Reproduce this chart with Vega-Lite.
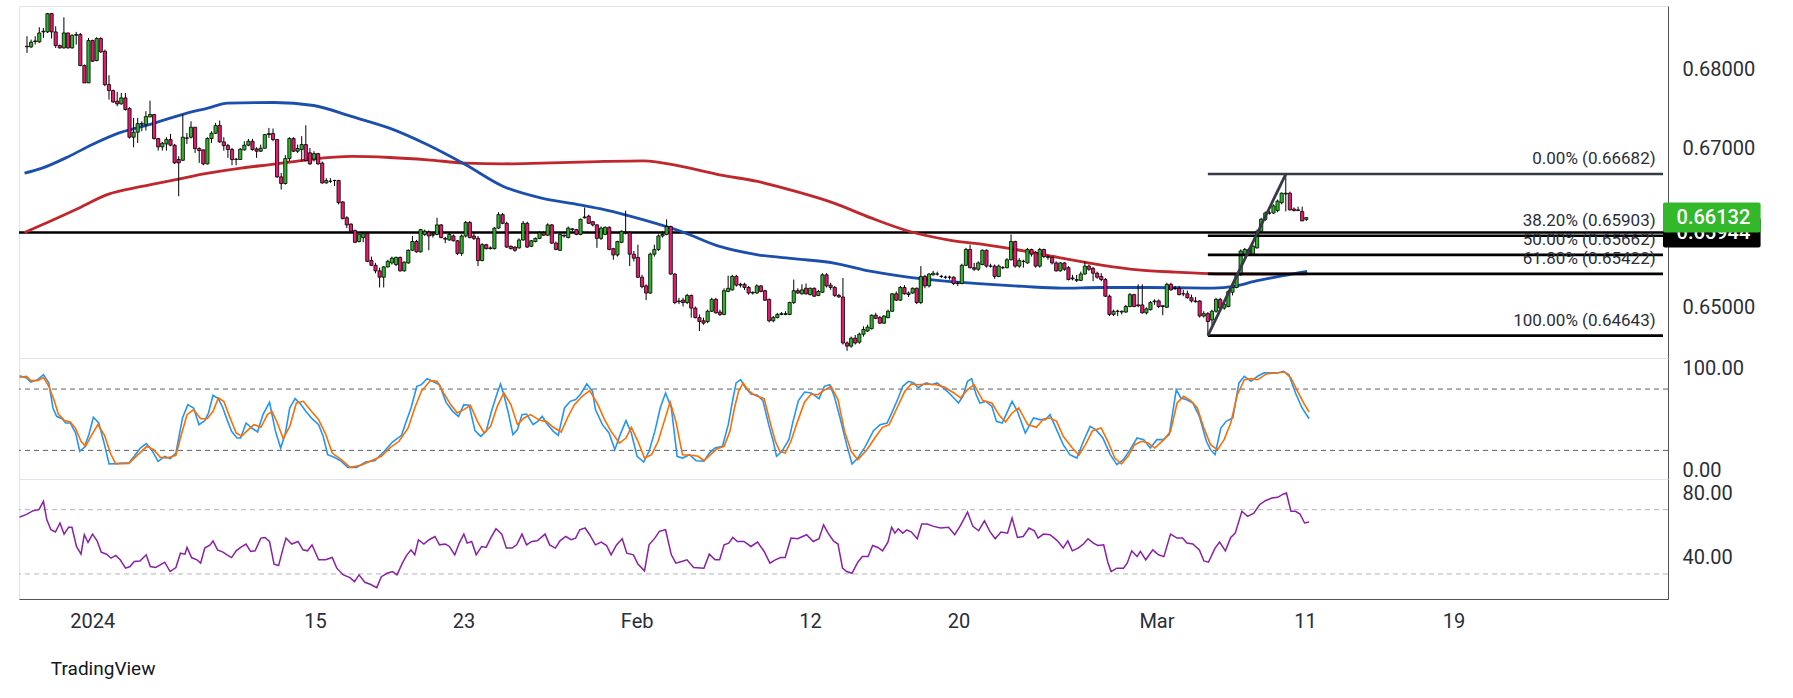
{
  "$schema": "https://vega.github.io/schema/vega-lite/v6.json",
  "background": "#ffffff",
  "padding": {"left": 15, "top": 5, "right": 0, "bottom": 0},
  "autosize": {"type": "pad"},
  "spacing": 0,
  "bounds": "flush",
  "title": {"text": "TradingView", "orient": "bottom", "anchor": "start", "dx": 35, "offset": 28, "font": "Roboto", "fontSize": 19, "fontWeight": "normal", "color": "#131722"},
  "config": {
    "view": {"stroke": "#e0e3eb", "strokeWidth": 1},
    "axis": {"labelFont": "Roboto", "labelFontSize": 20, "labelColor": "#2a2e39", "ticks": false, "grid": false, "domainColor": "#50535e", "domainWidth": 1, "labelFlush": false}
  },
  "datasets": {
    "candles": [
      {"k":0,"o":0.68295,"h":0.68421,"l":0.68211,"c":0.68287},
      {"k":1,"o":0.68287,"h":0.68379,"l":0.68274,"c":0.68346},
      {"k":2,"o":0.68354,"h":0.68421,"l":0.68316,"c":0.68362},
      {"k":3,"o":0.6835,"h":0.68535,"l":0.68337,"c":0.68463},
      {"k":4,"o":0.68476,"h":0.68526,"l":0.684,"c":0.68484},
      {"k":5,"o":0.68476,"h":0.68716,"l":0.68463,"c":0.68707},
      {"k":6,"o":0.68707,"h":0.68716,"l":0.68392,"c":0.68476},
      {"k":7,"o":0.68476,"h":0.68547,"l":0.68274,"c":0.68303},
      {"k":8,"o":0.68303,"h":0.68316,"l":0.68266,"c":0.68274},
      {"k":9,"o":0.68274,"h":0.68661,"l":0.68266,"c":0.68463},
      {"k":10,"o":0.68463,"h":0.68463,"l":0.68266,"c":0.68274},
      {"k":11,"o":0.68274,"h":0.68442,"l":0.68266,"c":0.68434},
      {"k":12,"o":0.68434,"h":0.68476,"l":0.68316,"c":0.68442},
      {"k":13,"o":0.68442,"h":0.68463,"l":0.68043,"c":0.68051},
      {"k":14,"o":0.68051,"h":0.68064,"l":0.67832,"c":0.67832},
      {"k":15,"o":0.67832,"h":0.684,"l":0.67832,"c":0.68367},
      {"k":16,"o":0.68367,"h":0.68379,"l":0.68097,"c":0.68106},
      {"k":17,"o":0.68114,"h":0.68409,"l":0.68106,"c":0.68392},
      {"k":18,"o":0.68392,"h":0.68409,"l":0.68211,"c":0.68224},
      {"k":19,"o":0.68232,"h":0.68253,"l":0.6779,"c":0.67811},
      {"k":20,"o":0.67811,"h":0.67929,"l":0.67622,"c":0.67736},
      {"k":21,"o":0.67736,"h":0.67748,"l":0.6758,"c":0.67592},
      {"k":22,"o":0.67601,"h":0.67719,"l":0.67538,"c":0.67567},
      {"k":23,"o":0.67567,"h":0.67706,"l":0.67559,"c":0.67643},
      {"k":24,"o":0.67643,"h":0.67706,"l":0.67483,"c":0.67496},
      {"k":25,"o":0.67508,"h":0.67525,"l":0.6713,"c":0.67147},
      {"k":26,"o":0.67147,"h":0.67391,"l":0.6702,"c":0.6721},
      {"k":27,"o":0.6721,"h":0.67391,"l":0.67075,"c":0.67319},
      {"k":28,"o":0.67319,"h":0.67348,"l":0.67222,"c":0.67311},
      {"k":29,"o":0.67306,"h":0.67475,"l":0.67231,"c":0.67407},
      {"k":30,"o":0.67403,"h":0.67609,"l":0.67399,"c":0.67433},
      {"k":31,"o":0.67433,"h":0.67441,"l":0.67117,"c":0.6713},
      {"k":32,"o":0.6713,"h":0.67138,"l":0.66978,"c":0.67025},
      {"k":33,"o":0.67025,"h":0.67088,"l":0.66978,"c":0.67071},
      {"k":34,"o":0.67062,"h":0.67147,"l":0.66978,"c":0.67117},
      {"k":35,"o":0.67117,"h":0.67189,"l":0.67033,"c":0.67046},
      {"k":36,"o":0.67046,"h":0.67062,"l":0.6681,"c":0.66823},
      {"k":37,"o":0.66865,"h":0.66907,"l":0.66402,"c":0.66823},
      {"k":38,"o":0.66856,"h":0.67433,"l":0.66844,"c":0.67147},
      {"k":39,"o":0.67138,"h":0.67201,"l":0.67062,"c":0.67134},
      {"k":40,"o":0.67147,"h":0.67348,"l":0.6713,"c":0.67273},
      {"k":41,"o":0.67273,"h":0.67273,"l":0.66949,"c":0.67004},
      {"k":42,"o":0.67004,"h":0.6702,"l":0.66823,"c":0.66978},
      {"k":43,"o":0.66987,"h":0.66991,"l":0.66793,"c":0.6681},
      {"k":44,"o":0.6681,"h":0.67147,"l":0.66802,"c":0.6713},
      {"k":45,"o":0.6713,"h":0.67222,"l":0.67075,"c":0.67197},
      {"k":46,"o":0.67197,"h":0.67327,"l":0.67189,"c":0.67294},
      {"k":47,"o":0.67294,"h":0.67357,"l":0.67075,"c":0.67088},
      {"k":48,"o":0.67088,"h":0.67147,"l":0.66978,"c":0.67041},
      {"k":49,"o":0.67041,"h":0.67062,"l":0.66886,"c":0.66991},
      {"k":50,"o":0.66991,"h":0.67012,"l":0.66793,"c":0.66865},
      {"k":51,"o":0.66865,"h":0.66886,"l":0.66793,"c":0.66869},
      {"k":52,"o":0.66865,"h":0.67012,"l":0.66861,"c":0.66995},
      {"k":53,"o":0.66987,"h":0.67096,"l":0.66978,"c":0.67046},
      {"k":54,"o":0.67046,"h":0.67126,"l":0.67033,"c":0.67096},
      {"k":55,"o":0.67096,"h":0.67126,"l":0.66978,"c":0.66991},
      {"k":56,"o":0.66999,"h":0.6702,"l":0.66886,"c":0.6697},
      {"k":57,"o":0.6697,"h":0.67054,"l":0.66961,"c":0.67008},
      {"k":58,"o":0.67008,"h":0.67189,"l":0.67004,"c":0.6718},
      {"k":59,"o":0.6718,"h":0.67264,"l":0.67138,"c":0.67193},
      {"k":60,"o":0.67193,"h":0.67256,"l":0.67096,"c":0.67117},
      {"k":61,"o":0.67117,"h":0.67126,"l":0.66633,"c":0.66646},
      {"k":62,"o":0.66646,"h":0.66696,"l":0.66486,"c":0.66562},
      {"k":63,"o":0.66562,"h":0.66919,"l":0.66549,"c":0.66877},
      {"k":64,"o":0.66877,"h":0.67147,"l":0.66844,"c":0.6713},
      {"k":65,"o":0.6713,"h":0.67147,"l":0.66961,"c":0.6697},
      {"k":66,"o":0.6697,"h":0.67054,"l":0.66949,"c":0.67004},
      {"k":67,"o":0.66991,"h":0.67159,"l":0.66844,"c":0.67054},
      {"k":68,"o":0.67054,"h":0.67298,"l":0.66844,"c":0.66852},
      {"k":69,"o":0.6695,"h":0.6701,"l":0.668,"c":0.6681},
      {"k":70,"o":0.6687,"h":0.6697,"l":0.6684,"c":0.6694},
      {"k":71,"o":0.6694,"h":0.6695,"l":0.668,"c":0.6681},
      {"k":72,"o":0.6682,"h":0.6684,"l":0.6656,"c":0.6657},
      {"k":73,"o":0.6657,"h":0.6663,"l":0.6656,"c":0.666},
      {"k":74,"o":0.6659,"h":0.6663,"l":0.6657,"c":0.6659},
      {"k":75,"o":0.666,"h":0.6661,"l":0.6653,"c":0.666},
      {"k":76,"o":0.666,"h":0.6661,"l":0.663,"c":0.6632},
      {"k":77,"o":0.6633,"h":0.6634,"l":0.6611,"c":0.6612},
      {"k":78,"o":0.6613,"h":0.6615,"l":0.66,"c":0.6604},
      {"k":79,"o":0.6605,"h":0.6606,"l":0.6595,"c":0.6596},
      {"k":80,"o":0.6597,"h":0.6598,"l":0.6581,"c":0.6582},
      {"k":81,"o":0.6583,"h":0.6592,"l":0.6582,"c":0.6592},
      {"k":82,"o":0.6588,"h":0.6594,"l":0.6582,"c":0.6593},
      {"k":83,"o":0.6593,"h":0.6594,"l":0.6557,"c":0.6558},
      {"k":84,"o":0.6559,"h":0.6564,"l":0.6552,"c":0.6553},
      {"k":85,"o":0.6553,"h":0.6556,"l":0.6543,"c":0.6546},
      {"k":86,"o":0.6546,"h":0.655,"l":0.6525,"c":0.6538},
      {"k":87,"o":0.6538,"h":0.6552,"l":0.6525,"c":0.6551},
      {"k":88,"o":0.6551,"h":0.656,"l":0.655,"c":0.6558},
      {"k":89,"o":0.6556,"h":0.6564,"l":0.6554,"c":0.6562},
      {"k":90,"o":0.6554,"h":0.6564,"l":0.6552,"c":0.6563},
      {"k":91,"o":0.6563,"h":0.6564,"l":0.6545,"c":0.6546},
      {"k":92,"o":0.6546,"h":0.6558,"l":0.6545,"c":0.6557},
      {"k":93,"o":0.6556,"h":0.6573,"l":0.6555,"c":0.6572},
      {"k":94,"o":0.6572,"h":0.659,"l":0.6571,"c":0.6583},
      {"k":95,"o":0.6583,"h":0.6585,"l":0.6569,"c":0.657},
      {"k":96,"o":0.657,"h":0.6599,"l":0.6569,"c":0.6598},
      {"k":97,"o":0.6592,"h":0.6598,"l":0.659,"c":0.6596},
      {"k":98,"o":0.6595,"h":0.6597,"l":0.6572,"c":0.659},
      {"k":99,"o":0.6591,"h":0.6594,"l":0.6588,"c":0.6592},
      {"k":100,"o":0.6592,"h":0.6613,"l":0.6591,"c":0.6604},
      {"k":101,"o":0.6604,"h":0.6605,"l":0.6587,"c":0.6588},
      {"k":102,"o":0.6587,"h":0.6589,"l":0.6581,"c":0.6586},
      {"k":103,"o":0.6585,"h":0.6594,"l":0.6584,"c":0.6592},
      {"k":104,"o":0.659,"h":0.6592,"l":0.6583,"c":0.6584},
      {"k":105,"o":0.6584,"h":0.6585,"l":0.6566,"c":0.6568},
      {"k":106,"o":0.6568,"h":0.6592,"l":0.6565,"c":0.659},
      {"k":107,"o":0.659,"h":0.6609,"l":0.6588,"c":0.6607},
      {"k":108,"o":0.6607,"h":0.6609,"l":0.6587,"c":0.6588},
      {"k":109,"o":0.659,"h":0.6594,"l":0.6585,"c":0.6587},
      {"k":110,"o":0.6587,"h":0.659,"l":0.6552,"c":0.6559},
      {"k":111,"o":0.6559,"h":0.6581,"l":0.6558,"c":0.6579},
      {"k":112,"o":0.6579,"h":0.658,"l":0.6573,"c":0.6574},
      {"k":113,"o":0.6575,"h":0.6577,"l":0.6573,"c":0.6574},
      {"k":114,"o":0.6574,"h":0.6601,"l":0.6573,"c":0.66},
      {"k":115,"o":0.66,"h":0.662,"l":0.6599,"c":0.6617},
      {"k":116,"o":0.6617,"h":0.6619,"l":0.6605,"c":0.6606},
      {"k":117,"o":0.6606,"h":0.6608,"l":0.6575,"c":0.6576},
      {"k":118,"o":0.6577,"h":0.6578,"l":0.6573,"c":0.6574},
      {"k":119,"o":0.6576,"h":0.6577,"l":0.657,"c":0.6572},
      {"k":120,"o":0.6575,"h":0.6587,"l":0.6574,"c":0.6585},
      {"k":121,"o":0.6585,"h":0.6609,"l":0.6584,"c":0.6606},
      {"k":122,"o":0.6606,"h":0.6608,"l":0.6575,"c":0.6576},
      {"k":123,"o":0.6577,"h":0.6585,"l":0.6576,"c":0.6584},
      {"k":124,"o":0.6583,"h":0.6588,"l":0.6582,"c":0.6587},
      {"k":125,"o":0.6587,"h":0.6596,"l":0.6586,"c":0.6594},
      {"k":126,"o":0.6594,"h":0.6596,"l":0.659,"c":0.6591},
      {"k":127,"o":0.6591,"h":0.6606,"l":0.659,"c":0.6604},
      {"k":128,"o":0.6604,"h":0.6605,"l":0.658,"c":0.6581},
      {"k":129,"o":0.6581,"h":0.6583,"l":0.6572,"c":0.6573},
      {"k":130,"o":0.6572,"h":0.6593,"l":0.6571,"c":0.6592},
      {"k":131,"o":0.6591,"h":0.6592,"l":0.6588,"c":0.659},
      {"k":132,"o":0.6588,"h":0.6602,"l":0.6587,"c":0.66},
      {"k":133,"o":0.6599,"h":0.66,"l":0.6596,"c":0.6598},
      {"k":134,"o":0.6598,"h":0.6599,"l":0.6591,"c":0.6592},
      {"k":135,"o":0.6592,"h":0.6612,"l":0.6591,"c":0.6611},
      {"k":136,"o":0.6613,"h":0.6626,"l":0.6612,"c":0.6614},
      {"k":137,"o":0.6615,"h":0.6617,"l":0.6605,"c":0.6606},
      {"k":138,"o":0.6608,"h":0.6609,"l":0.6602,"c":0.6604},
      {"k":139,"o":0.6604,"h":0.6605,"l":0.6575,"c":0.6587},
      {"k":140,"o":0.6587,"h":0.6602,"l":0.6585,"c":0.66},
      {"k":141,"o":0.6592,"h":0.6602,"l":0.6591,"c":0.6601},
      {"k":142,"o":0.6601,"h":0.6602,"l":0.6572,"c":0.6573},
      {"k":143,"o":0.6574,"h":0.6575,"l":0.656,"c":0.6566},
      {"k":144,"o":0.6566,"h":0.6584,"l":0.6564,"c":0.6583},
      {"k":145,"o":0.6582,"h":0.6597,"l":0.6581,"c":0.6596},
      {"k":146,"o":0.6595,"h":0.6622,"l":0.6592,"c":0.6594},
      {"k":147,"o":0.6594,"h":0.6596,"l":0.6552,"c":0.6567},
      {"k":148,"o":0.6567,"h":0.6571,"l":0.6558,"c":0.6562},
      {"k":149,"o":0.6563,"h":0.6579,"l":0.6537,"c":0.6538},
      {"k":150,"o":0.6538,"h":0.6541,"l":0.6524,"c":0.6526},
      {"k":151,"o":0.6527,"h":0.6529,"l":0.6509,"c":0.6518},
      {"k":152,"o":0.6518,"h":0.6569,"l":0.6517,"c":0.6567},
      {"k":153,"o":0.6567,"h":0.6579,"l":0.6564,"c":0.6573},
      {"k":154,"o":0.6573,"h":0.6592,"l":0.6571,"c":0.659},
      {"k":155,"o":0.659,"h":0.6596,"l":0.6588,"c":0.6592},
      {"k":156,"o":0.6592,"h":0.6611,"l":0.6591,"c":0.6602},
      {"k":157,"o":0.6602,"h":0.6603,"l":0.6541,"c":0.6542},
      {"k":158,"o":0.6542,"h":0.6543,"l":0.6504,"c":0.6506},
      {"k":159,"o":0.6507,"h":0.6512,"l":0.6504,"c":0.6508},
      {"k":160,"o":0.6509,"h":0.6512,"l":0.6501,"c":0.6506},
      {"k":161,"o":0.6506,"h":0.6517,"l":0.6504,"c":0.6515},
      {"k":162,"o":0.6515,"h":0.6516,"l":0.6487,"c":0.6499},
      {"k":163,"o":0.6499,"h":0.6501,"l":0.6486,"c":0.6487},
      {"k":164,"o":0.6487,"h":0.6491,"l":0.647,"c":0.6482},
      {"k":165,"o":0.6483,"h":0.6487,"l":0.6478,"c":0.648},
      {"k":166,"o":0.6482,"h":0.6497,"l":0.648,"c":0.6495},
      {"k":167,"o":0.6495,"h":0.6512,"l":0.6494,"c":0.651},
      {"k":168,"o":0.651,"h":0.6512,"l":0.6492,"c":0.6493},
      {"k":169,"o":0.6494,"h":0.6497,"l":0.6489,"c":0.6491},
      {"k":170,"o":0.6491,"h":0.6524,"l":0.649,"c":0.6521},
      {"k":171,"o":0.652,"h":0.654,"l":0.6519,"c":0.6524},
      {"k":172,"o":0.6522,"h":0.6541,"l":0.6521,"c":0.6539},
      {"k":173,"o":0.6539,"h":0.6541,"l":0.6526,"c":0.6528},
      {"k":174,"o":0.6529,"h":0.6531,"l":0.6525,"c":0.6528},
      {"k":175,"o":0.6529,"h":0.6531,"l":0.6522,"c":0.6525},
      {"k":176,"o":0.6525,"h":0.6527,"l":0.6516,"c":0.6518},
      {"k":177,"o":0.6518,"h":0.652,"l":0.6516,"c":0.6519},
      {"k":178,"o":0.6518,"h":0.6529,"l":0.6517,"c":0.6527},
      {"k":179,"o":0.6527,"h":0.6528,"l":0.6519,"c":0.652},
      {"k":180,"o":0.6521,"h":0.6522,"l":0.6508,"c":0.6509},
      {"k":181,"o":0.651,"h":0.6511,"l":0.6481,"c":0.6483},
      {"k":182,"o":0.6483,"h":0.6489,"l":0.6481,"c":0.6487},
      {"k":183,"o":0.6487,"h":0.6493,"l":0.6486,"c":0.6491},
      {"k":184,"o":0.6491,"h":0.6494,"l":0.649,"c":0.6492},
      {"k":185,"o":0.6491,"h":0.6495,"l":0.649,"c":0.6492},
      {"k":186,"o":0.6491,"h":0.6507,"l":0.649,"c":0.6506},
      {"k":187,"o":0.6506,"h":0.6535,"l":0.6504,"c":0.6521},
      {"k":188,"o":0.6521,"h":0.6524,"l":0.6517,"c":0.6518},
      {"k":189,"o":0.6517,"h":0.6529,"l":0.6516,"c":0.6522},
      {"k":190,"o":0.6524,"h":0.653,"l":0.6516,"c":0.6517},
      {"k":191,"o":0.6516,"h":0.6525,"l":0.6515,"c":0.6524},
      {"k":192,"o":0.6524,"h":0.6525,"l":0.6513,"c":0.6514},
      {"k":193,"o":0.6515,"h":0.6522,"l":0.6514,"c":0.652},
      {"k":194,"o":0.6519,"h":0.6543,"l":0.6518,"c":0.6541},
      {"k":195,"o":0.6541,"h":0.6543,"l":0.6525,"c":0.6527},
      {"k":196,"o":0.6528,"h":0.6531,"l":0.6522,"c":0.6525},
      {"k":197,"o":0.6525,"h":0.6527,"l":0.6513,"c":0.6515},
      {"k":198,"o":0.6515,"h":0.6517,"l":0.6512,"c":0.6513},
      {"k":199,"o":0.6513,"h":0.6537,"l":0.6453,"c":0.6455},
      {"k":200,"o":0.6455,"h":0.6457,"l":0.6445,"c":0.6451},
      {"k":201,"o":0.6451,"h":0.6463,"l":0.6449,"c":0.6461},
      {"k":202,"o":0.6461,"h":0.6465,"l":0.6453,"c":0.6455},
      {"k":203,"o":0.6456,"h":0.6468,"l":0.6454,"c":0.6466},
      {"k":204,"o":0.6466,"h":0.6476,"l":0.6463,"c":0.6472},
      {"k":205,"o":0.647,"h":0.6478,"l":0.6469,"c":0.6475},
      {"k":206,"o":0.6473,"h":0.6491,"l":0.6472,"c":0.649},
      {"k":207,"o":0.649,"h":0.6493,"l":0.6485,"c":0.6486},
      {"k":208,"o":0.6487,"h":0.6489,"l":0.6479,"c":0.648},
      {"k":209,"o":0.648,"h":0.649,"l":0.6479,"c":0.6489},
      {"k":210,"o":0.6487,"h":0.6497,"l":0.6486,"c":0.6495},
      {"k":211,"o":0.6495,"h":0.6518,"l":0.6494,"c":0.6517},
      {"k":212,"o":0.6517,"h":0.652,"l":0.6508,"c":0.6509},
      {"k":213,"o":0.6509,"h":0.6527,"l":0.6508,"c":0.6525},
      {"k":214,"o":0.6525,"h":0.6528,"l":0.6516,"c":0.6517},
      {"k":215,"o":0.6516,"h":0.652,"l":0.6513,"c":0.6518},
      {"k":216,"o":0.6518,"h":0.6525,"l":0.6517,"c":0.6524},
      {"k":217,"o":0.6524,"h":0.6525,"l":0.6504,"c":0.6506},
      {"k":218,"o":0.6506,"h":0.6552,"l":0.6504,"c":0.6539},
      {"k":219,"o":0.6539,"h":0.6541,"l":0.6524,"c":0.6527},
      {"k":220,"o":0.6527,"h":0.6543,"l":0.6525,"c":0.6542},
      {"k":221,"o":0.6541,"h":0.6546,"l":0.654,"c":0.6543},
      {"k":222,"o":0.6542,"h":0.6545,"l":0.654,"c":0.6542},
      {"k":223,"o":0.6539,"h":0.6541,"l":0.6537,"c":0.6539},
      {"k":224,"o":0.6538,"h":0.654,"l":0.6536,"c":0.6538},
      {"k":225,"o":0.6538,"h":0.654,"l":0.6535,"c":0.6538},
      {"k":226,"o":0.6538,"h":0.6539,"l":0.6528,"c":0.653},
      {"k":227,"o":0.653,"h":0.6533,"l":0.6527,"c":0.653},
      {"k":228,"o":0.653,"h":0.6555,"l":0.6529,"c":0.6553},
      {"k":229,"o":0.6553,"h":0.6575,"l":0.6552,"c":0.6573},
      {"k":230,"o":0.6573,"h":0.6579,"l":0.6549,"c":0.655},
      {"k":231,"o":0.655,"h":0.6556,"l":0.6546,"c":0.6548},
      {"k":232,"o":0.6548,"h":0.6558,"l":0.6546,"c":0.6556},
      {"k":233,"o":0.6554,"h":0.6573,"l":0.6553,"c":0.6572},
      {"k":234,"o":0.6572,"h":0.6573,"l":0.655,"c":0.6552},
      {"k":235,"o":0.6552,"h":0.6555,"l":0.655,"c":0.6552},
      {"k":236,"o":0.6552,"h":0.6554,"l":0.6536,"c":0.6539},
      {"k":237,"o":0.6539,"h":0.6554,"l":0.6538,"c":0.6552},
      {"k":238,"o":0.655,"h":0.6552,"l":0.6548,"c":0.655},
      {"k":239,"o":0.655,"h":0.6562,"l":0.6549,"c":0.656},
      {"k":240,"o":0.656,"h":0.6592,"l":0.6559,"c":0.6583},
      {"k":241,"o":0.6583,"h":0.6584,"l":0.655,"c":0.6552},
      {"k":242,"o":0.6552,"h":0.6562,"l":0.655,"c":0.6559},
      {"k":243,"o":0.6558,"h":0.656,"l":0.655,"c":0.6558},
      {"k":244,"o":0.6556,"h":0.6575,"l":0.6555,"c":0.6573},
      {"k":245,"o":0.6573,"h":0.6574,"l":0.6564,"c":0.6567},
      {"k":246,"o":0.6569,"h":0.6571,"l":0.655,"c":0.6552},
      {"k":247,"o":0.6552,"h":0.6575,"l":0.655,"c":0.6573},
      {"k":248,"o":0.6573,"h":0.6574,"l":0.6562,"c":0.6564},
      {"k":249,"o":0.6563,"h":0.6566,"l":0.656,"c":0.6564},
      {"k":250,"o":0.6563,"h":0.6564,"l":0.6554,"c":0.6556},
      {"k":251,"o":0.6556,"h":0.6558,"l":0.6545,"c":0.6546},
      {"k":252,"o":0.6546,"h":0.6557,"l":0.6545,"c":0.6556},
      {"k":253,"o":0.6556,"h":0.6557,"l":0.6546,"c":0.6548},
      {"k":254,"o":0.655,"h":0.6552,"l":0.6534,"c":0.6535},
      {"k":255,"o":0.6536,"h":0.6541,"l":0.6534,"c":0.6537},
      {"k":256,"o":0.6535,"h":0.6541,"l":0.6532,"c":0.6534},
      {"k":257,"o":0.6534,"h":0.6545,"l":0.6533,"c":0.6542},
      {"k":258,"o":0.6542,"h":0.6558,"l":0.6541,"c":0.6552},
      {"k":259,"o":0.6552,"h":0.6554,"l":0.6546,"c":0.6548},
      {"k":260,"o":0.6549,"h":0.6551,"l":0.6533,"c":0.6543},
      {"k":261,"o":0.6543,"h":0.6545,"l":0.6536,"c":0.6538},
      {"k":262,"o":0.6539,"h":0.6543,"l":0.6533,"c":0.6535},
      {"k":263,"o":0.6535,"h":0.6537,"l":0.6513,"c":0.6514},
      {"k":264,"o":0.6514,"h":0.6516,"l":0.6489,"c":0.6491},
      {"k":265,"o":0.6491,"h":0.6497,"l":0.6489,"c":0.6495},
      {"k":266,"o":0.6495,"h":0.6497,"l":0.6489,"c":0.6495},
      {"k":267,"o":0.6494,"h":0.6496,"l":0.6491,"c":0.6495},
      {"k":268,"o":0.6494,"h":0.6503,"l":0.6493,"c":0.6501},
      {"k":269,"o":0.6501,"h":0.6518,"l":0.65,"c":0.6516},
      {"k":270,"o":0.6516,"h":0.6517,"l":0.65,"c":0.6501},
      {"k":271,"o":0.6503,"h":0.6529,"l":0.65,"c":0.6502},
      {"k":272,"o":0.6503,"h":0.6529,"l":0.6492,"c":0.6493},
      {"k":273,"o":0.6493,"h":0.65,"l":0.6491,"c":0.6498},
      {"k":274,"o":0.6497,"h":0.6508,"l":0.6496,"c":0.6506},
      {"k":275,"o":0.6507,"h":0.651,"l":0.6503,"c":0.6508},
      {"k":276,"o":0.6508,"h":0.651,"l":0.6499,"c":0.6501},
      {"k":277,"o":0.6501,"h":0.6503,"l":0.649,"c":0.6502},
      {"k":278,"o":0.65,"h":0.6531,"l":0.6499,"c":0.6529},
      {"k":279,"o":0.6529,"h":0.6531,"l":0.6521,"c":0.6522},
      {"k":280,"o":0.6524,"h":0.6527,"l":0.6522,"c":0.6524},
      {"k":281,"o":0.6524,"h":0.6527,"l":0.6515,"c":0.6516},
      {"k":282,"o":0.6517,"h":0.6522,"l":0.6514,"c":0.6517},
      {"k":283,"o":0.6517,"h":0.6521,"l":0.6511,"c":0.6512},
      {"k":284,"o":0.6512,"h":0.6516,"l":0.6506,"c":0.6508},
      {"k":285,"o":0.6508,"h":0.6513,"l":0.6506,"c":0.6507},
      {"k":286,"o":0.6508,"h":0.6509,"l":0.6487,"c":0.6489},
      {"k":287,"o":0.6489,"h":0.6495,"l":0.6487,"c":0.6492},
      {"k":288,"o":0.6492,"h":0.6494,"l":0.64643,"c":0.6482},
      {"k":289,"o":0.6484,"h":0.6497,"l":0.6478,"c":0.6495},
      {"k":290,"o":0.6495,"h":0.6512,"l":0.6493,"c":0.651},
      {"k":291,"o":0.651,"h":0.6512,"l":0.6497,"c":0.6499},
      {"k":292,"o":0.6499,"h":0.6506,"l":0.6497,"c":0.6504},
      {"k":293,"o":0.6501,"h":0.6522,"l":0.65,"c":0.652},
      {"k":294,"o":0.6519,"h":0.6527,"l":0.6515,"c":0.6525},
      {"k":295,"o":0.6525,"h":0.6543,"l":0.6524,"c":0.6541},
      {"k":296,"o":0.6541,"h":0.6573,"l":0.654,"c":0.6571},
      {"k":297,"o":0.6566,"h":0.6575,"l":0.6564,"c":0.6573},
      {"k":298,"o":0.6573,"h":0.6575,"l":0.6565,"c":0.6566},
      {"k":299,"o":0.6567,"h":0.6579,"l":0.6566,"c":0.6577},
      {"k":300,"o":0.6575,"h":0.6598,"l":0.6574,"c":0.6596},
      {"k":301,"o":0.6596,"h":0.6613,"l":0.6595,"c":0.6611},
      {"k":302,"o":0.6611,"h":0.6621,"l":0.6609,"c":0.6619},
      {"k":303,"o":0.6619,"h":0.6622,"l":0.6617,"c":0.6619},
      {"k":304,"o":0.6619,"h":0.663,"l":0.6618,"c":0.6628},
      {"k":305,"o":0.6622,"h":0.6636,"l":0.662,"c":0.6634},
      {"k":306,"o":0.6632,"h":0.6645,"l":0.663,"c":0.6644},
      {"k":307,"o":0.6643,"h":0.66682,"l":0.6621,"c":0.6644},
      {"k":308,"o":0.6644,"h":0.6646,"l":0.6622,"c":0.6623},
      {"k":309,"o":0.6624,"h":0.6626,"l":0.6621,"c":0.6622},
      {"k":310,"o":0.6623,"h":0.6627,"l":0.6622,"c":0.6622},
      {"k":311,"o":0.6621,"h":0.6627,"l":0.6609,"c":0.6609},
      {"k":312,"o":0.6611,"h":0.6614,"l":0.6609,"c":0.66132}
    ],
    "ma1": [
      {"k":-0.6,"p":0.66693},{"k":3.7,"p":0.66757},{"k":10.2,"p":0.66904},{"k":15.8,"p":0.67051},{"k":22.3,"p":0.67198},{"k":29.6,"p":0.67303},{"k":37.6,"p":0.6743},{"k":44.1,"p":0.67514},{"k":49,"p":0.67577},{"k":60.3,"p":0.67585},{"k":69.9,"p":0.67547},{"k":79.1,"p":0.67409},{"k":88.4,"p":0.67261},{"k":97.7,"p":0.67051},{"k":107,"p":0.66799},{"k":116.2,"p":0.66525},{"k":125.5,"p":0.66378},{"k":134.8,"p":0.66294},{"k":141,"p":0.66231},{"k":150.4,"p":0.66104},{"k":159.6,"p":0.65957},{"k":168.9,"p":0.65768},{"k":178.2,"p":0.65663},{"k":187.5,"p":0.65612},{"k":196.8,"p":0.65558},{"k":206,"p":0.65452},{"k":215.3,"p":0.65377},{"k":224.6,"p":0.65326},{"k":233.9,"p":0.65292},{"k":243.1,"p":0.65263},{"k":252.4,"p":0.65242},{"k":261.7,"p":0.6525},{"k":271,"p":0.6525},{"k":280,"p":0.65247},{"k":289.3,"p":0.65242},{"k":294.3,"p":0.65263},{"k":299.3,"p":0.65326},{"k":304.2,"p":0.65377},{"k":312.2,"p":0.65452}
    ],
    "ma2": [
      {"k":-0.6,"p":0.65945},{"k":3.7,"p":0.66041},{"k":11.8,"p":0.66231},{"k":19.9,"p":0.66428},{"k":28,"p":0.66525},{"k":36,"p":0.66609},{"k":44.2,"p":0.66693},{"k":52.2,"p":0.66757},{"k":60.3,"p":0.66807},{"k":68.4,"p":0.66862},{"k":79.1,"p":0.66904},{"k":88.4,"p":0.66891},{"k":97.7,"p":0.66862},{"k":107,"p":0.6682},{"k":116.2,"p":0.66811},{"k":125.5,"p":0.6682},{"k":134.8,"p":0.66832},{"k":141,"p":0.66841},{"k":150.4,"p":0.66849},{"k":159.6,"p":0.66778},{"k":168.9,"p":0.66672},{"k":178.2,"p":0.66588},{"k":187.5,"p":0.66462},{"k":196.8,"p":0.66315},{"k":206,"p":0.66125},{"k":215.3,"p":0.65957},{"k":224.6,"p":0.65852},{"k":233.9,"p":0.65789},{"k":243.1,"p":0.65713},{"k":252.4,"p":0.65621},{"k":261.7,"p":0.65536},{"k":271,"p":0.65473},{"k":280.2,"p":0.65444},{"k":290,"p":0.65423},{"k":300,"p":0.65419},{"k":312.2,"p":0.65423}
    ],
    "stochK": [
      {"k":-0.6,"v":93.1},{"k":1.1,"v":90.9},{"k":2.1,"v":86.9},{"k":3.8,"v":89.2},{"k":5.2,"v":94.1},{"k":6.5,"v":86},{"k":7.5,"v":61.5},{"k":8.4,"v":53.3},{"k":9.7,"v":51},{"k":10.6,"v":46.8},{"k":11.7,"v":46.8},{"k":13,"v":37},{"k":14,"v":19.1},{"k":15.1,"v":23},{"k":16.2,"v":35.4},{"k":17.3,"v":52.4},{"k":18.6,"v":46.8},{"k":20,"v":25.6},{"k":21.1,"v":6.7},{"k":22.7,"v":7},{"k":24.3,"v":7.6},{"k":25.9,"v":7.6},{"k":27.2,"v":14.2},{"k":28.7,"v":22.3},{"k":30.1,"v":26.6},{"k":31.4,"v":20.7},{"k":33,"v":9.3},{"k":34.6,"v":14.2},{"k":35.9,"v":11.9},{"k":37.3,"v":17.4},{"k":38.9,"v":51.7},{"k":40.2,"v":64.8},{"k":41.6,"v":61.5},{"k":42.9,"v":45.2},{"k":44.3,"v":49.1},{"k":45.2,"v":56.6},{"k":46.3,"v":73.9},{"k":47.6,"v":70.6},{"k":48.7,"v":61.5},{"k":49.7,"v":50.1},{"k":50.8,"v":38.6},{"k":52.1,"v":32.1},{"k":53,"v":32.1},{"k":54.3,"v":46.8},{"k":55.7,"v":41.9},{"k":57.1,"v":38},{"k":58.4,"v":55},{"k":60,"v":67},{"k":61.4,"v":39.3},{"k":62.7,"v":22.3},{"k":63.8,"v":36},{"k":64.9,"v":61.5},{"k":66.2,"v":70.6},{"k":67.5,"v":65.4},{"k":68.8,"v":58.2},{"k":70.3,"v":51},{"k":71.9,"v":45.2},{"k":73,"v":33.8},{"k":74.1,"v":15.8},{"k":75.7,"v":13.2},{"k":77.4,"v":9.3},{"k":79,"v":3.4},{"k":81.1,"v":3.4},{"k":83.3,"v":8.6},{"k":85.5,"v":9.9},{"k":87.8,"v":19.1},{"k":89.8,"v":28.2},{"k":92,"v":34.7},{"k":93,"v":46.8},{"k":94.3,"v":61.5},{"k":95.7,"v":82.7},{"k":96.8,"v":84.3},{"k":98.2,"v":90.2},{"k":99.5,"v":87.6},{"k":101.2,"v":84.3},{"k":102.8,"v":67},{"k":104.4,"v":58.2},{"k":105.8,"v":53.3},{"k":107.1,"v":64.8},{"k":108.4,"v":64.1},{"k":109.8,"v":39.3},{"k":111.2,"v":33.8},{"k":112.5,"v":38.6},{"k":113.8,"v":58.2},{"k":115.2,"v":76.2},{"k":116,"v":85},{"k":116.8,"v":74.5},{"k":117.9,"v":56.6},{"k":119,"v":35.4},{"k":120.1,"v":40.3},{"k":121.2,"v":55},{"k":122.3,"v":55.6},{"k":123.9,"v":45.2},{"k":125,"v":48.4},{"k":126.1,"v":53.3},{"k":127.1,"v":46.8},{"k":128.8,"v":38.6},{"k":130,"v":34.7},{"k":131.5,"v":61.5},{"k":132.9,"v":68},{"k":134.2,"v":69.7},{"k":135.3,"v":74.5},{"k":136.9,"v":85},{"k":138.3,"v":77.8},{"k":139,"v":59.9},{"k":140.7,"v":45.2},{"k":142.3,"v":37},{"k":143.7,"v":20.7},{"k":145,"v":35.4},{"k":146.4,"v":49.1},{"k":147.7,"v":37},{"k":149.1,"v":14.2},{"k":150.7,"v":8.6},{"k":152,"v":19.1},{"k":153.4,"v":38.6},{"k":154.7,"v":61.5},{"k":156,"v":76.2},{"k":157.4,"v":61.5},{"k":158.8,"v":14.2},{"k":160.1,"v":12.5},{"k":161.8,"v":15.8},{"k":163.4,"v":9.9},{"k":165.3,"v":9.5},{"k":166.6,"v":17.4},{"k":168,"v":22.3},{"k":169.8,"v":24},{"k":171.2,"v":45.2},{"k":172.3,"v":69.7},{"k":173.1,"v":86},{"k":174.2,"v":89.2},{"k":175.3,"v":81.7},{"k":176.7,"v":75.2},{"k":178.3,"v":73.9},{"k":179.6,"v":68.7},{"k":181,"v":45.2},{"k":182.1,"v":28.9},{"k":182.9,"v":14.2},{"k":184.2,"v":19.1},{"k":185.9,"v":30.5},{"k":186.9,"v":48.4},{"k":188.2,"v":68.7},{"k":189.7,"v":77.1},{"k":191.3,"v":76.2},{"k":193.2,"v":70.6},{"k":194.5,"v":82.7},{"k":195.8,"v":84.3},{"k":196.9,"v":72.9},{"k":198.3,"v":51.7},{"k":199.9,"v":25.6},{"k":201.2,"v":6.7},{"k":202.6,"v":12.5},{"k":204.3,"v":23},{"k":206.4,"v":39.3},{"k":208,"v":45.2},{"k":209.7,"v":46.8},{"k":211,"v":58.2},{"k":212.4,"v":71.3},{"k":213.5,"v":82.7},{"k":214.9,"v":87.6},{"k":216.2,"v":86},{"k":217.2,"v":81.1},{"k":218.1,"v":83.7},{"k":219.2,"v":86},{"k":220.5,"v":84.3},{"k":221.8,"v":86},{"k":222.9,"v":82.7},{"k":224.3,"v":77.8},{"k":225.9,"v":71.3},{"k":227,"v":66.4},{"k":228.1,"v":72.9},{"k":229.2,"v":87.6},{"k":230.2,"v":90.2},{"k":231.3,"v":74.5},{"k":232.2,"v":66.4},{"k":233.7,"v":68},{"k":235.1,"v":63.1},{"k":236.2,"v":48.4},{"k":237.6,"v":46.8},{"k":238.9,"v":58.2},{"k":240,"v":68},{"k":241.3,"v":58.2},{"k":243.2,"v":37},{"k":245.2,"v":51.7},{"k":246.7,"v":50.1},{"k":248.1,"v":50.1},{"k":249.2,"v":55},{"k":250.8,"v":40.3},{"k":252.4,"v":25.6},{"k":254,"v":15.8},{"k":255.7,"v":12.5},{"k":257.3,"v":28.9},{"k":258.9,"v":43.5},{"k":260.3,"v":40.3},{"k":262,"v":32.1},{"k":263.8,"v":15.8},{"k":265.4,"v":6},{"k":267,"v":10.9},{"k":268.6,"v":20.7},{"k":270.3,"v":32.1},{"k":271.9,"v":30.5},{"k":273.5,"v":22.3},{"k":275.1,"v":30.5},{"k":276.6,"v":30.5},{"k":278.1,"v":35.4},{"k":279.8,"v":79.4},{"k":280.9,"v":71.3},{"k":282.2,"v":69.7},{"k":283.8,"v":66.4},{"k":285.4,"v":53.3},{"k":287.1,"v":28.9},{"k":288.1,"v":20.7},{"k":289.2,"v":15.8},{"k":290.6,"v":41.9},{"k":291.9,"v":48.4},{"k":293.5,"v":51.7},{"k":295,"v":86},{"k":296.3,"v":92.5},{"k":297.9,"v":87.6},{"k":299.5,"v":92.5},{"k":301.1,"v":95.8},{"k":302.7,"v":95.8},{"k":304.4,"v":95.8},{"k":305.8,"v":97.4},{"k":307.1,"v":94.1},{"k":308.7,"v":76.2},{"k":310.3,"v":61.5},{"k":312,"v":51}
    ],
    "stochD": [
      {"k":-0.6,"v":91.5},{"k":1.1,"v":92.5},{"k":2.1,"v":88.3},{"k":3.8,"v":88.3},{"k":5.2,"v":91.5},{"k":6.5,"v":82.7},{"k":7.8,"v":68.7},{"k":8.8,"v":55.6},{"k":10.3,"v":49.1},{"k":11.7,"v":47.8},{"k":13,"v":41.3},{"k":14.3,"v":28.9},{"k":15.4,"v":24},{"k":16.7,"v":33.8},{"k":18.4,"v":45.2},{"k":20,"v":34.7},{"k":21.4,"v":17.4},{"k":22.7,"v":6.7},{"k":25.9,"v":7.3},{"k":28.1,"v":15.8},{"k":30.3,"v":24},{"k":31.9,"v":20.7},{"k":33.5,"v":13.2},{"k":35.1,"v":12.5},{"k":37.3,"v":15.2},{"k":38.4,"v":32.1},{"k":40,"v":55},{"k":41.6,"v":59.9},{"k":43.3,"v":51},{"k":44.9,"v":51},{"k":46.3,"v":58.2},{"k":47.6,"v":71.3},{"k":48.9,"v":68},{"k":50.3,"v":53.3},{"k":51.9,"v":37},{"k":53.2,"v":33.8},{"k":54.6,"v":39.3},{"k":56.2,"v":45.2},{"k":57.9,"v":42.6},{"k":59.5,"v":55},{"k":60.6,"v":58.2},{"k":61.9,"v":46.8},{"k":63.3,"v":31.5},{"k":64.9,"v":43.5},{"k":66.5,"v":66.4},{"k":68.2,"v":68},{"k":70.3,"v":57.6},{"k":71.9,"v":50.1},{"k":73.6,"v":36},{"k":75.2,"v":17.4},{"k":77.4,"v":10.9},{"k":79.5,"v":3.4},{"k":82.2,"v":5.4},{"k":84.4,"v":9.3},{"k":87.1,"v":14.2},{"k":89.3,"v":23},{"k":91.4,"v":28.9},{"k":93.6,"v":41.9},{"k":95.2,"v":61.5},{"k":96.8,"v":77.8},{"k":99,"v":88.3},{"k":100.6,"v":87.6},{"k":102.2,"v":76.2},{"k":103.9,"v":64.8},{"k":105.5,"v":56.6},{"k":107.1,"v":59.9},{"k":108.7,"v":64.1},{"k":110.4,"v":48.4},{"k":112,"v":37},{"k":113.6,"v":43.5},{"k":115.2,"v":63.1},{"k":116.8,"v":76.2},{"k":118.5,"v":64.8},{"k":120.1,"v":45.2},{"k":121.7,"v":51.7},{"k":123.3,"v":55},{"k":125.5,"v":49.4},{"k":127.1,"v":48.4},{"k":128.8,"v":42.6},{"k":130.7,"v":38},{"k":132.2,"v":51.7},{"k":133.9,"v":64.8},{"k":135.8,"v":72.9},{"k":137.6,"v":78.5},{"k":139.6,"v":64.8},{"k":141.2,"v":50.1},{"k":142.8,"v":38.6},{"k":144.8,"v":27.2},{"k":146.4,"v":32.1},{"k":147.7,"v":42.6},{"k":149.3,"v":28.9},{"k":150.9,"v":12.5},{"k":152.6,"v":15.8},{"k":154.2,"v":28.9},{"k":155.8,"v":50.1},{"k":157.1,"v":67.4},{"k":158.5,"v":48.4},{"k":160.1,"v":15.8},{"k":162.3,"v":15.2},{"k":163.9,"v":14.2},{"k":165.3,"v":9.9},{"k":166.9,"v":15.8},{"k":168.5,"v":21.7},{"k":170.2,"v":24},{"k":171.6,"v":38.6},{"k":172.7,"v":61.5},{"k":173.7,"v":77.8},{"k":174.8,"v":86},{"k":176.1,"v":78.5},{"k":177.7,"v":73.9},{"k":179.9,"v":70.6},{"k":181.5,"v":45.2},{"k":182.6,"v":28.9},{"k":183.7,"v":19.1},{"k":185,"v":17.4},{"k":186.4,"v":28.9},{"k":188,"v":48.4},{"k":189.7,"v":67.4},{"k":191.3,"v":75.2},{"k":192.9,"v":74.5},{"k":194.3,"v":78.5},{"k":196.1,"v":82.7},{"k":197.8,"v":69.7},{"k":199.4,"v":38.6},{"k":201,"v":19.1},{"k":202.6,"v":10.9},{"k":204.8,"v":20.7},{"k":207,"v":33.8},{"k":208.6,"v":42.6},{"k":210.2,"v":45.2},{"k":212.1,"v":61.5},{"k":214,"v":77.8},{"k":215.6,"v":85},{"k":217.2,"v":84.3},{"k":219.4,"v":85},{"k":221.6,"v":84.3},{"k":223.7,"v":81.7},{"k":225.9,"v":76.2},{"k":227.5,"v":71.3},{"k":229.2,"v":79.4},{"k":230.8,"v":84.3},{"k":232.9,"v":68.7},{"k":235.1,"v":66.4},{"k":236.9,"v":54.3},{"k":238.4,"v":47.8},{"k":240,"v":56.6},{"k":241.6,"v":61.5},{"k":243.8,"v":45.2},{"k":245.9,"v":42.6},{"k":247.6,"v":50.7},{"k":249.2,"v":51.7},{"k":250.8,"v":48.4},{"k":252.4,"v":33.8},{"k":254.6,"v":22.3},{"k":256.2,"v":15.2},{"k":257.8,"v":25.6},{"k":259.5,"v":39.3},{"k":261.6,"v":41.9},{"k":263.2,"v":28.9},{"k":264.9,"v":12.5},{"k":266.5,"v":6.7},{"k":268.1,"v":14.2},{"k":269.7,"v":25.6},{"k":271.4,"v":28.9},{"k":273,"v":27.2},{"k":274.6,"v":22.3},{"k":276.8,"v":30.5},{"k":278.4,"v":38.6},{"k":280,"v":66.4},{"k":281.6,"v":72.9},{"k":283.3,"v":68.7},{"k":284.9,"v":61.5},{"k":286.5,"v":41.9},{"k":288.1,"v":25.6},{"k":289.8,"v":20.7},{"k":291.4,"v":30.5},{"k":293,"v":46.8},{"k":294.6,"v":74.5},{"k":296.3,"v":89.2},{"k":297.9,"v":90.2},{"k":299.5,"v":89.2},{"k":301.7,"v":94.8},{"k":303.8,"v":95.8},{"k":306,"v":96.7},{"k":307.6,"v":90.9},{"k":309.2,"v":77.8},{"k":310.9,"v":64.8},{"k":312,"v":57.6}
    ],
    "rsi": [
      {"k":-0.6,"v":65.4},{"k":1,"v":66.9},{"k":2.7,"v":69.4},{"k":4.1,"v":70},{"k":5.2,"v":75.2},{"k":6,"v":63.8},{"k":7,"v":57.5},{"k":8.1,"v":56.1},{"k":9.2,"v":61.7},{"k":10.2,"v":54.8},{"k":11.3,"v":59},{"k":12.1,"v":59},{"k":13.2,"v":47.1},{"k":14.3,"v":42.3},{"k":15.1,"v":54.4},{"k":16,"v":49.6},{"k":17.1,"v":54.8},{"k":18.2,"v":50.6},{"k":19.2,"v":43.6},{"k":20.5,"v":42.3},{"k":21.6,"v":39.8},{"k":22.7,"v":41.5},{"k":23.8,"v":38.8},{"k":25.1,"v":33.6},{"k":26.2,"v":34.6},{"k":27.2,"v":37.7},{"k":28.6,"v":38.1},{"k":30.1,"v":41.9},{"k":31.1,"v":34.6},{"k":32.4,"v":34},{"k":33.5,"v":35.6},{"k":34.6,"v":37.3},{"k":35.9,"v":31.5},{"k":37.3,"v":34},{"k":38.4,"v":42.9},{"k":39.5,"v":42.3},{"k":40,"v":46.5},{"k":41.1,"v":40.2},{"k":42.4,"v":38.8},{"k":43.3,"v":36.7},{"k":44.3,"v":46.1},{"k":45.6,"v":48.1},{"k":46.3,"v":50.6},{"k":47.4,"v":45},{"k":48.7,"v":43.6},{"k":49.7,"v":41.9},{"k":50.8,"v":40.2},{"k":51.9,"v":44.4},{"k":53,"v":46.5},{"k":54.3,"v":48.6},{"k":55.4,"v":44},{"k":56.5,"v":44.4},{"k":57.9,"v":52.3},{"k":58.9,"v":52.7},{"k":60,"v":50.2},{"k":61.1,"v":36.1},{"k":62.2,"v":35.2},{"k":63.3,"v":46.1},{"k":64,"v":52.3},{"k":65.4,"v":48.6},{"k":66.9,"v":50.2},{"k":68.1,"v":45},{"k":69.2,"v":44.4},{"k":70.3,"v":48.1},{"k":71.9,"v":38.8},{"k":73.6,"v":38.8},{"k":75.2,"v":40.2},{"k":76.3,"v":33.6},{"k":77.9,"v":29.4},{"k":79.5,"v":27.7},{"k":80.6,"v":25.2},{"k":81.7,"v":29.4},{"k":83.1,"v":24.8},{"k":84.4,"v":23.6},{"k":86,"v":21.5},{"k":87.1,"v":28.3},{"k":88.5,"v":30.4},{"k":89.8,"v":31.5},{"k":90.9,"v":29.4},{"k":92.2,"v":36.7},{"k":93.3,"v":41.9},{"k":94.3,"v":45},{"k":95.2,"v":41.9},{"k":96.1,"v":51.3},{"k":97.4,"v":48.6},{"k":98.7,"v":51.3},{"k":100.1,"v":53.3},{"k":101.2,"v":48.1},{"k":102.6,"v":48.6},{"k":103.6,"v":47.1},{"k":104.9,"v":41.9},{"k":106,"v":49.2},{"k":107.1,"v":54.8},{"k":107.9,"v":49.2},{"k":109,"v":50.2},{"k":110.1,"v":41.9},{"k":111.4,"v":47.1},{"k":112.5,"v":46.5},{"k":113.6,"v":52.3},{"k":114.9,"v":58.1},{"k":116.3,"v":54.8},{"k":117.4,"v":46.1},{"k":118.8,"v":46.1},{"k":119.9,"v":48.1},{"k":121.2,"v":54.8},{"k":122.3,"v":48.1},{"k":123.6,"v":50.2},{"k":124.9,"v":50.6},{"k":126.8,"v":54.8},{"k":127.9,"v":48.1},{"k":129.3,"v":46.1},{"k":130.4,"v":50.6},{"k":131.8,"v":53.3},{"k":133.1,"v":51.3},{"k":134.2,"v":52.3},{"k":135.2,"v":57.5},{"k":136.5,"v":58.6},{"k":137.6,"v":54.4},{"k":139,"v":48.1},{"k":140.4,"v":49.8},{"k":141.7,"v":47.7},{"k":142.8,"v":41.9},{"k":144.1,"v":48.1},{"k":145.5,"v":51.9},{"k":146.6,"v":42.9},{"k":148.2,"v":41.9},{"k":149.3,"v":36.1},{"k":150.9,"v":31.9},{"k":152,"v":48.1},{"k":153.4,"v":52.3},{"k":154.5,"v":56.5},{"k":156,"v":57.5},{"k":157.4,"v":41.9},{"k":158.5,"v":36.7},{"k":159.9,"v":37.7},{"k":161.2,"v":38.8},{"k":162.8,"v":34},{"k":165.3,"v":33.6},{"k":166.6,"v":42.3},{"k":168,"v":38.8},{"k":169.1,"v":38.8},{"k":170.2,"v":48.1},{"k":171.3,"v":49.2},{"k":172.3,"v":52.7},{"k":173.4,"v":50.2},{"k":175,"v":50.2},{"k":176.7,"v":47.1},{"k":178.3,"v":49.8},{"k":179.9,"v":44},{"k":181.3,"v":36.7},{"k":182.6,"v":38.8},{"k":183.9,"v":40.2},{"k":185,"v":40.2},{"k":186.4,"v":52.3},{"k":188,"v":51.9},{"k":190.2,"v":54.4},{"k":191.8,"v":50.2},{"k":193.2,"v":51.9},{"k":194.3,"v":60.6},{"k":195.4,"v":55.4},{"k":196.7,"v":50.6},{"k":197.8,"v":48.6},{"k":198.9,"v":33.6},{"k":199.9,"v":31.5},{"k":201.2,"v":30.4},{"k":202.6,"v":37.3},{"k":203.7,"v":40.8},{"k":205.1,"v":40.8},{"k":206.2,"v":47.7},{"k":207.5,"v":46.5},{"k":208.6,"v":44.4},{"k":209.9,"v":49.8},{"k":210.8,"v":59},{"k":211.6,"v":55.4},{"k":212.4,"v":58.1},{"k":213.5,"v":55.4},{"k":214.5,"v":57.5},{"k":215.6,"v":56.1},{"k":217,"v":51.9},{"k":218.1,"v":61.1},{"k":219.4,"v":61.1},{"k":221,"v":59.6},{"k":222.7,"v":58.6},{"k":224.6,"v":59},{"k":226.1,"v":54.4},{"k":227.5,"v":60.2},{"k":229.2,"v":68.5},{"k":230.5,"v":59.6},{"k":231.9,"v":56.9},{"k":233.3,"v":63.1},{"k":234.6,"v":56.5},{"k":235.9,"v":51.9},{"k":237.3,"v":56.1},{"k":238.9,"v":55.4},{"k":240,"v":64.8},{"k":241.3,"v":52.7},{"k":242.7,"v":53.3},{"k":244.1,"v":58.6},{"k":245.4,"v":56.9},{"k":246.3,"v":52.3},{"k":247.6,"v":54.8},{"k":249.2,"v":54.4},{"k":251,"v":50.6},{"k":252.4,"v":46.1},{"k":253.5,"v":50.6},{"k":254.6,"v":44.4},{"k":256,"v":46.1},{"k":257.3,"v":48.6},{"k":258.4,"v":51.9},{"k":259.7,"v":49.2},{"k":260.8,"v":47.7},{"k":262.2,"v":48.1},{"k":263.2,"v":37.3},{"k":264,"v":31.5},{"k":265.4,"v":33.6},{"k":267,"v":33.6},{"k":267.9,"v":36.7},{"k":269,"v":44.4},{"k":270.3,"v":40.8},{"k":271.1,"v":44},{"k":272.4,"v":38.8},{"k":274.1,"v":45},{"k":275.5,"v":41.9},{"k":276.8,"v":40.8},{"k":278.4,"v":54.8},{"k":280,"v":52.3},{"k":281.3,"v":52.3},{"k":282.4,"v":49.2},{"k":283.8,"v":48.6},{"k":285.4,"v":45},{"k":286.5,"v":38.1},{"k":287.6,"v":37.3},{"k":289.2,"v":46.1},{"k":290.3,"v":49.8},{"k":291.7,"v":44.4},{"k":293,"v":52.7},{"k":294.1,"v":55.4},{"k":295.7,"v":69},{"k":297.1,"v":65.8},{"k":298.6,"v":67.9},{"k":300,"v":73.1},{"k":301.4,"v":75.6},{"k":303,"v":77.3},{"k":304.4,"v":77.7},{"k":305.8,"v":79.8},{"k":306.5,"v":80.4},{"k":307.6,"v":69},{"k":308.7,"v":69},{"k":309.8,"v":67.3},{"k":310.9,"v":61.7},{"k":312,"v":62.3}
    ],
    "fib": [
      {"p":0.66682,"t":"0.00% (0.66682)"},
      {"p":0.65903,"t":"38.20% (0.65903)"},
      {"p":0.65662,"t":"50.00% (0.65662)"},
      {"p":0.65422,"t":"61.80% (0.65422)"},
      {"p":0.64643,"t":"100.00% (0.64643)"}
    ],
    "swing": [
      {"k":288,"p":0.64643},
      {"k":307,"p":0.66682}
    ],
    "level": [
      {"p":0.65944,"t":"0.65944"}
    ],
    "last": [
      {"p":0.66132,"t":"0.66132"}
    ]
  },
  "vconcat": [
    {
      "width": 1649,
      "height": 352,
      "layer": [
        {
          "data": {"name": "level"},
          "mark": {"type": "rule", "color": "#000000", "strokeWidth": 2.6},
          "encoding": {
            "y": {"field": "p", "type": "quantitative", "scale": {"domain": [0.6436, 0.68803], "nice": false, "zero": false}, "axis": {"orient": "right", "values": [0.65, 0.67, 0.68], "format": ".5f", "labelPadding": 14, "title": null}}
          }
        },
        {
          "data": {"name": "ma2"},
          "mark": {"type": "line", "color": "#c0272d", "strokeWidth": 2.8, "interpolate": "monotone"},
          "encoding": {
            "x": {"field": "k", "type": "quantitative", "scale": {"domain": [-0.73, 399], "nice": false, "zero": false}, "axis": null},
            "y": {"field": "p", "type": "quantitative", "title": null}
          }
        },
        {
          "data": {"name": "ma1"},
          "mark": {"type": "line", "color": "#1b4fae", "strokeWidth": 2.8, "interpolate": "monotone"},
          "encoding": {
            "x": {"field": "k", "type": "quantitative", "axis": null},
            "y": {"field": "p", "type": "quantitative", "title": null}
          }
        },
        {
          "data": {"name": "candles"},
          "mark": {"type": "rule", "color": "#000000", "strokeWidth": 1},
          "encoding": {
            "x": {"field": "k", "type": "quantitative", "axis": null},
            "y": {"field": "l", "type": "quantitative", "title": null},
            "y2": {"field": "h"}
          }
        },
        {
          "data": {"name": "candles"},
          "mark": {"type": "bar", "orient": "vertical", "width": 3.2, "stroke": "#000000", "strokeWidth": 0.8},
          "encoding": {
            "x": {"field": "k", "type": "quantitative", "axis": null},
            "y": {"field": "o", "type": "quantitative", "title": null},
            "y2": {"field": "c"},
            "color": {"condition": {"test": "datum.c >= datum.o", "value": "#2eb52b"}, "value": "#e8196f"}
          }
        },
        {
          "data": {"name": "fib"},
          "mark": {"type": "rule", "strokeWidth": 2.6},
          "encoding": {
            "x": {"datum": 288, "type": "quantitative", "axis": null},
            "x2": {"datum": 399},
            "y": {"field": "p", "type": "quantitative", "title": null},
            "color": {"condition": {"test": "datum.p > 0.666", "value": "#363a45"}, "value": "#000000"}
          }
        },
        {
          "data": {"name": "swing"},
          "mark": {"type": "line", "color": "#363a45", "strokeWidth": 2.8},
          "encoding": {
            "x": {"field": "k", "type": "quantitative", "axis": null},
            "y": {"field": "p", "type": "quantitative", "title": null}
          }
        },
        {
          "data": {"name": "fib"},
          "mark": {"type": "text", "align": "right", "baseline": "middle", "dy": -15, "font": "Roboto", "fontSize": 17, "color": "#2a2e39"},
          "encoding": {
            "x": {"datum": 397.2, "type": "quantitative", "axis": null},
            "y": {"field": "p", "type": "quantitative", "title": null},
            "text": {"field": "t"}
          }
        },
        {
          "data": {"name": "level"},
          "mark": {"type": "rect", "color": "#000000", "cornerRadius": 2, "height": 30, "clip": false},
          "encoding": {
            "x": {"datum": 399, "type": "quantitative", "axis": null},
            "x2": {"datum": 422.8},
            "y": {"field": "p", "type": "quantitative", "title": null}
          }
        },
        {
          "data": {"name": "level"},
          "mark": {"type": "text", "align": "center", "baseline": "middle", "font": "Roboto", "fontSize": 20, "fontWeight": 500, "color": "#ffffff", "clip": false},
          "encoding": {
            "x": {"datum": 411.3, "type": "quantitative", "axis": null},
            "y": {"field": "p", "type": "quantitative", "title": null},
            "text": {"field": "t"}
          }
        },
        {
          "data": {"name": "last"},
          "mark": {"type": "rect", "color": "#33b72b", "cornerRadius": 2, "height": 30, "clip": false},
          "encoding": {
            "x": {"datum": 399, "type": "quantitative", "axis": null},
            "x2": {"datum": 422.8},
            "y": {"field": "p", "type": "quantitative", "title": null}
          }
        },
        {
          "data": {"name": "last"},
          "mark": {"type": "text", "align": "center", "baseline": "middle", "font": "Roboto", "fontSize": 20, "fontWeight": 500, "color": "#ffffff", "clip": false},
          "encoding": {
            "x": {"datum": 411.3, "type": "quantitative", "axis": null},
            "y": {"field": "p", "type": "quantitative", "title": null},
            "text": {"field": "t"}
          }
        }
      ]
    },
    {
      "width": 1649,
      "height": 121,
      "layer": [
        {
          "mark": {"type": "rect", "color": "#e9d2fb"},
          "encoding": {
            "x": {"datum": -0.73, "type": "quantitative", "scale": {"domain": [-0.73, 399], "nice": false, "zero": false}, "axis": null},
            "x2": {"datum": 399},
            "y": {"datum": 80, "type": "quantitative", "scale": {"domain": [-8, 110.4], "nice": false, "zero": false}, "axis": {"orient": "right", "values": [0, 100], "format": ".2f", "labelPadding": 14, "title": null}},
            "y2": {"datum": 20}
          }
        },
        {
          "data": {"values": [{"v": 80}, {"v": 20}]},
          "mark": {"type": "rule", "color": "#5d606b", "strokeWidth": 1, "strokeDash": [5, 4]},
          "encoding": {
            "y": {"field": "v", "type": "quantitative", "title": null}
          }
        },
        {
          "data": {"name": "stochK"},
          "mark": {"type": "line", "color": "#2196f3", "strokeWidth": 1.6},
          "encoding": {
            "x": {"field": "k", "type": "quantitative", "axis": null},
            "y": {"field": "v", "type": "quantitative", "title": null}
          }
        },
        {
          "data": {"name": "stochD"},
          "mark": {"type": "line", "color": "#ff6d00", "strokeWidth": 1.6},
          "encoding": {
            "x": {"field": "k", "type": "quantitative", "axis": null},
            "y": {"field": "v", "type": "quantitative", "title": null}
          }
        }
      ]
    },
    {
      "width": 1649,
      "height": 120,
      "layer": [
        {
          "mark": {"type": "rect", "color": "#f3e6fd"},
          "encoding": {
            "x": {"datum": -0.73, "type": "quantitative", "scale": {"domain": [-0.73, 399], "nice": false, "zero": false}, "axis": {"orient": "bottom", "values": [17, 71, 107, 149, 191, 227, 275, 311, 347], "labelExpr": "datum.value == 17 ? '2024' : datum.value == 71 ? '15' : datum.value == 107 ? '23' : datum.value == 149 ? 'Feb' : datum.value == 191 ? '12' : datum.value == 227 ? '20' : datum.value == 275 ? 'Mar' : datum.value == 311 ? '11' : '19'", "labelPadding": 12, "title": null}},
            "x2": {"datum": 399},
            "y": {"datum": 70, "type": "quantitative", "scale": {"domain": [14.4, 89.1], "nice": false, "zero": false}, "axis": {"orient": "right", "values": [40, 80], "format": ".2f", "labelPadding": 14, "title": null}},
            "y2": {"datum": 30}
          }
        },
        {
          "data": {"values": [{"v": 70}, {"v": 30}]},
          "mark": {"type": "rule", "color": "#b2b5be", "strokeWidth": 1, "strokeDash": [5, 4]},
          "encoding": {
            "y": {"field": "v", "type": "quantitative", "title": null}
          }
        },
        {
          "data": {"name": "rsi"},
          "mark": {"type": "line", "color": "#8b1fa6", "strokeWidth": 1.5},
          "encoding": {
            "x": {"field": "k", "type": "quantitative", "title": null},
            "y": {"field": "v", "type": "quantitative", "title": null}
          }
        }
      ]
    }
  ]
}
